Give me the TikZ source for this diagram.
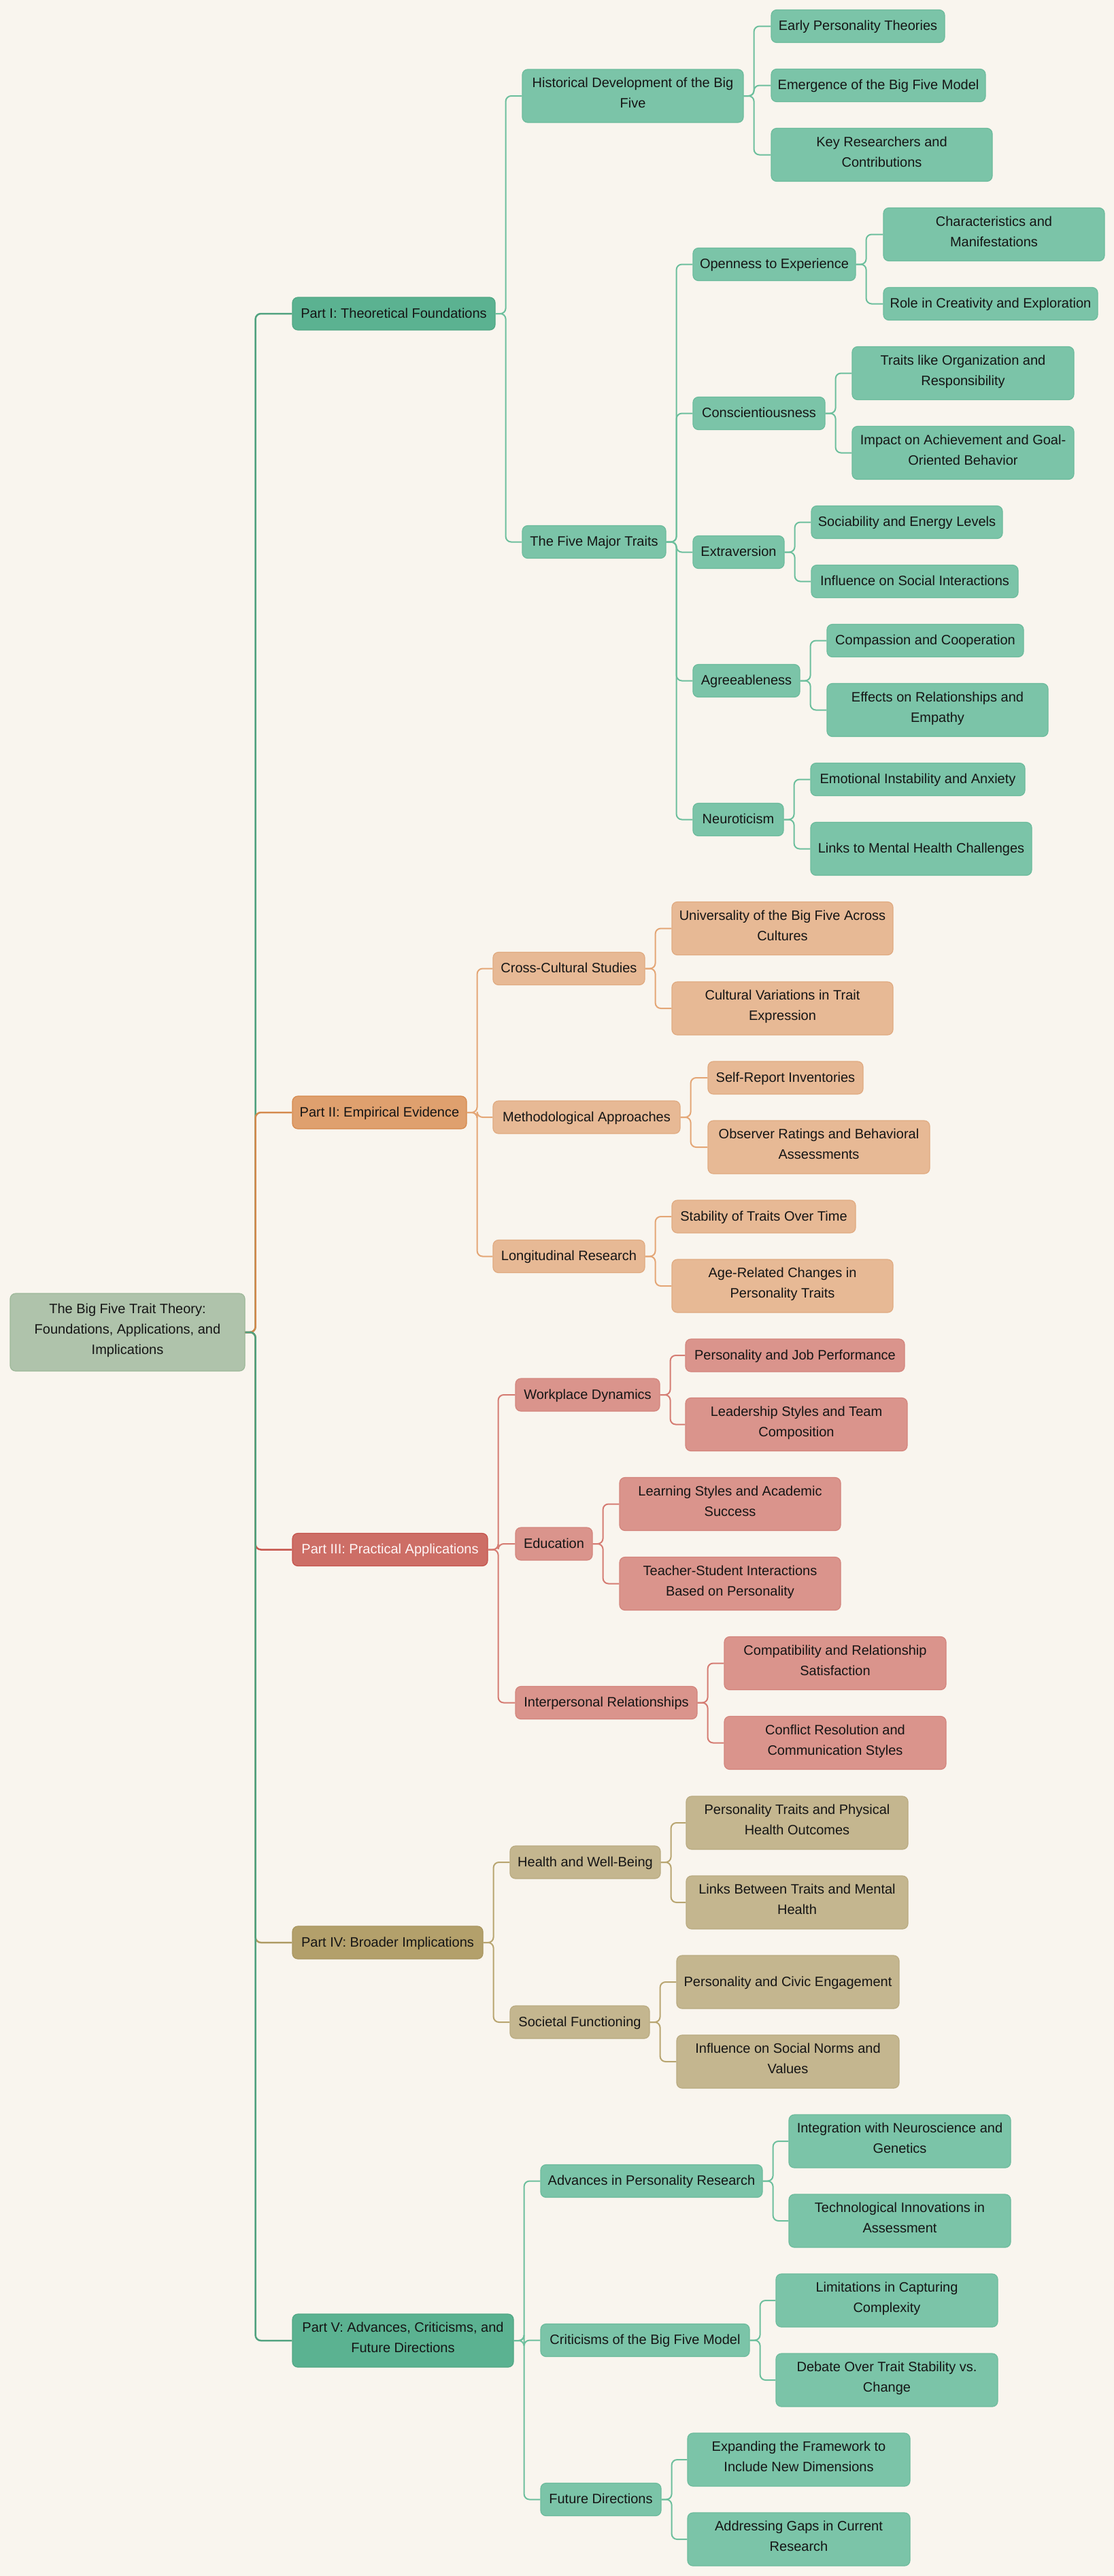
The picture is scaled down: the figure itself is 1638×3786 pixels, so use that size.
\documentclass[tikz,border=0pt]{standalone}
\usepackage{fontspec}
\setmainfont{Liberation Sans}
\definecolor{bg}{HTML}{F9F5EE}
\definecolor{rootf}{HTML}{AFC3AB}\definecolor{rootd}{HTML}{9CB898}
\definecolor{gA}{HTML}{5BB291}\definecolor{gAd}{HTML}{4FA683}
\definecolor{gB}{HTML}{7BC4A8}\definecolor{gBd}{HTML}{6CBB9C}
\definecolor{gE}{HTML}{6DBF9D}\definecolor{gR}{HTML}{50A27F}
\definecolor{oA}{HTML}{DFA06E}\definecolor{oAd}{HTML}{D5884C}
\definecolor{oB}{HTML}{E7B995}\definecolor{oBd}{HTML}{E0AA80}
\definecolor{oE}{HTML}{E4A676}\definecolor{oR}{HTML}{D4894C}
\definecolor{rA}{HTML}{CD6E66}\definecolor{rAd}{HTML}{C4524B}
\definecolor{rB}{HTML}{DA948C}\definecolor{rBd}{HTML}{D3847C}
\definecolor{rE}{HTML}{D57C73}\definecolor{rR}{HTML}{C6564C}
\definecolor{tA}{HTML}{B3A06B}\definecolor{tAd}{HTML}{A8955E}
\definecolor{tB}{HTML}{C4B68F}\definecolor{tBd}{HTML}{B9AA80}
\definecolor{tE}{HTML}{B8A570}\definecolor{tR}{HTML}{AD9A62}
\definecolor{txt}{HTML}{151515}
\newcommand\lnk[3]{\draw[edge,#1] (#2.east) -- ++(15,0) |- (#3.west);}
\begin{document}
\begin{tikzpicture}[x=1pt,y=-1pt,
  box/.style={rectangle, rounded corners=8pt, inner sep=0pt, align=center,
    font=\fontsize{20}{30}\selectfont, line width=1.2pt, text=txt,
    execute at begin node=\strut, execute at end node=\strut},
  sgl/.style={minimum height=48pt},
  dbl/.style={minimum height=78pt},
  mw/.style={minimum width=#1pt},
  gP/.style={box, fill=gA, draw=gAd},
  gC/.style={box, fill=gB, draw=gBd},
  oP/.style={box, fill=oA, draw=oAd},
  oC/.style={box, fill=oB, draw=oBd},
  rP/.style={box, fill=rA, draw=rAd, text=white!96!red},
  rC/.style={box, fill=rB, draw=rBd},
  tP/.style={box, fill=tA, draw=tAd},
  tC/.style={box, fill=tB, draw=tBd},
  edge/.style={line width=2pt, rounded corners=8pt},
  redge/.style={line width=2.5pt, rounded corners=8pt}]
\fill[bg] (0,0) rectangle (1638,3786);
\useasboundingbox (0,0) rectangle (1638,3786);

% root
\node[box, fill=rootf, draw=rootd, mw=345, minimum height=114pt] (R) at (187.5,1958)
  {The Big Five Trait Theory:\\Foundations, Applications, and\\Implications};

% Part I
\node[gP, mw=298, sgl] (P1) at (579,461) {Part I: Theoretical Foundations};
\node[gC, mw=325, dbl] (H) at (930.5,141) {Historical Development of the Big\\Five};
\node[gC, mw=211, sgl] (T5) at (873.5,796.5) {The Five Major Traits};
\node[gC, mw=255, sgl] (E1) at (1261.5,38.5) {Early Personality Theories};
\node[gC, mw=315, sgl] (E2) at (1291.5,125.5) {Emergence of the Big Five Model};
\node[gC, mw=325, dbl] (E3) at (1296.5,227.5) {Key Researchers and\\Contributions};
\node[gC, mw=239, sgl] (O) at (1138.5,388.5) {Openness to Experience};
\node[gC, mw=194, sgl] (C) at (1116,607.5) {Conscientiousness};
\node[gC, mw=134, sgl] (X) at (1086,811.5) {Extraversion};
\node[gC, mw=157, sgl] (A) at (1097.5,1000.5) {Agreeableness};
\node[gC, mw=133, sgl] (N) at (1085.5,1204.5) {Neuroticism};
\node[gC, mw=325, dbl] (O1) at (1461.5,344.5) {Characteristics and\\Manifestations};
\node[gC, mw=315, sgl] (O2) at (1456.5,446.5) {Role in Creativity and Exploration};
\node[gC, mw=326, dbl] (C1) at (1416,548.5) {Traits like Organization and\\Responsibility};
\node[gC, mw=326, dbl] (C2) at (1416,665.5) {Impact on Achievement and Goal-\\Oriented Behavior};
\node[gC, mw=281, sgl] (X1) at (1333.5,767.5) {Sociability and Energy Levels};
\node[gC, mw=304, sgl] (X2) at (1345,854.5) {Influence on Social Interactions};
\node[gC, mw=289, sgl] (A1) at (1360.5,941.5) {Compassion and Cooperation};
\node[gC, mw=325, dbl] (A2) at (1378.5,1043.5) {Effects on Relationships and\\Empathy};
\node[gC, mw=315, sgl] (N1) at (1349.5,1145.5) {Emotional Instability and Anxiety};
\node[gC, mw=325, dbl] (N2) at (1354.5,1247.5) {Links to Mental Health Challenges};

% Part II
\node[oP, mw=256, sgl] (P2) at (558,1635) {Part II: Empirical Evidence};
\node[oC, mw=223, sgl] (CC) at (836.5,1423.5) {Cross-Cultural Studies};
\node[oC, mw=275, sgl] (MA) at (862.5,1642) {Methodological Approaches};
\node[oC, mw=223, sgl] (LR) at (836.5,1846.5) {Longitudinal Research};
\node[oC, mw=325, dbl] (CC1) at (1150.5,1364.5) {Universality of the Big Five Across\\Cultures};
\node[oC, mw=325, dbl] (CC2) at (1150.5,1482) {Cultural Variations in Trait\\Expression};
\node[oC, mw=228, sgl] (MA1) at (1155,1584) {Self-Report Inventories};
\node[oC, mw=326, dbl] (MA2) at (1204,1686) {Observer Ratings and Behavioral\\Assessments};
\node[oC, mw=270, sgl] (LR1) at (1123,1788) {Stability of Traits Over Time};
\node[oC, mw=325, dbl] (LR2) at (1150.5,1890) {Age-Related Changes in\\Personality Traits};

% Part III
\node[rP, mw=287, sgl] (P3) at (573.5,2277.5) {Part III: Practical Applications};
\node[rC, mw=212, sgl] (WD) at (864,2050) {Workplace Dynamics};
\node[rC, mw=113, sgl] (ED) at (814.5,2269) {Education};
\node[rC, mw=267, sgl] (IR) at (891.5,2502.5) {Interpersonal Relationships};
\node[rC, mw=322, sgl] (WD1) at (1169,1992) {Personality and Job Performance};
\node[rC, mw=326, dbl] (WD2) at (1171,2093.5) {Leadership Styles and Team\\Composition};
\node[rC, mw=325, dbl] (ED1) at (1073.5,2210.5) {Learning Styles and Academic\\Success};
\node[rC, mw=325, dbl] (ED2) at (1073.5,2327.5) {Teacher-Student Interactions\\Based on Personality};
\node[rC, mw=326, dbl] (IR1) at (1228,2444.5) {Compatibility and Relationship\\Satisfaction};
\node[rC, mw=326, dbl] (IR2) at (1228,2561.5) {Conflict Resolution and\\Communication Styles};

% Part IV
\node[tP, mw=280, sgl] (P4) at (570,2855) {Part IV: Broader Implications};
\node[tC, mw=221, sgl] (HW) at (860.5,2737) {Health and Well-Being};
\node[tC, mw=205, sgl] (SF) at (852.5,2972) {Societal Functioning};
\node[tC, mw=326, dbl] (HW1) at (1172,2679) {Personality Traits and Physical\\Health Outcomes};
\node[tC, mw=326, dbl] (HW2) at (1172,2796) {Links Between Traits and Mental\\Health};
\node[tC, mw=327, dbl] (SF1) at (1158.5,2913) {Personality and Civic Engagement};
\node[tC, mw=327, dbl] (SF2) at (1158.5,3030) {Influence on Social Norms and\\Values};

% Part V
\node[gP, mw=325, dbl] (P5) at (592.5,3440) {Part V: Advances, Criticisms, and\\Future Directions};
\node[gC, mw=326, sgl] (AP) at (958,3205.5) {Advances in Personality Research};
\node[gC, mw=307, sgl] (CR) at (948.5,3439.5) {Criticisms of the Big Five Model};
\node[gC, mw=177, sgl] (FD) at (883.5,3673.5) {Future Directions};
\node[gC, mw=326, dbl] (AP1) at (1323,3147) {Integration with Neuroscience and\\Genetics};
\node[gC, mw=326, dbl] (AP2) at (1323,3264) {Technological Innovations in\\Assessment};
\node[gC, mw=326, dbl] (CR1) at (1304,3381) {Limitations in Capturing\\Complexity};
\node[gC, mw=326, dbl] (CR2) at (1304,3498) {Debate Over Trait Stability vs.\\Change};
\node[gC, mw=327, dbl] (FD1) at (1174.5,3615) {Expanding the Framework to\\Include New Dimensions};
\node[gC, mw=327, dbl] (FD2) at (1174.5,3732) {Addressing Gaps in Current\\Research};

% root connectors
\draw[redge,gR] (R.east) -- ++(15,0) |- (P1.west);
\draw[redge,oR] (R.east) -- ++(15,0) |- (P2.west);
\draw[redge,rR] (R.east) -- ++(15,0) |- (P3.west);
\draw[redge,tR] (R.east) -- ++(15,0) |- (P4.west);
\draw[redge,gR] (R.east) -- ++(15,0) |- (P5.west);

% Part I connectors
\lnk{gE}{P1}{H}\lnk{gE}{P1}{T5}
\lnk{gE}{H}{E1}\lnk{gE}{H}{E2}\lnk{gE}{H}{E3}
\lnk{gE}{T5}{O}\lnk{gE}{T5}{C}\lnk{gE}{T5}{X}\lnk{gE}{T5}{A}\lnk{gE}{T5}{N}
\lnk{gE}{O}{O1}\lnk{gE}{O}{O2}
\lnk{gE}{C}{C1}\lnk{gE}{C}{C2}
\lnk{gE}{X}{X1}\lnk{gE}{X}{X2}
\lnk{gE}{A}{A1}\lnk{gE}{A}{A2}
\lnk{gE}{N}{N1}\lnk{gE}{N}{N2}
% Part II connectors
\lnk{oE}{P2}{CC}\lnk{oE}{P2}{MA}\lnk{oE}{P2}{LR}
\lnk{oE}{CC}{CC1}\lnk{oE}{CC}{CC2}
\lnk{oE}{MA}{MA1}\lnk{oE}{MA}{MA2}
\lnk{oE}{LR}{LR1}\lnk{oE}{LR}{LR2}
% Part III connectors
\lnk{rE}{P3}{WD}\lnk{rE}{P3}{ED}\lnk{rE}{P3}{IR}
\lnk{rE}{WD}{WD1}\lnk{rE}{WD}{WD2}
\lnk{rE}{ED}{ED1}\lnk{rE}{ED}{ED2}
\lnk{rE}{IR}{IR1}\lnk{rE}{IR}{IR2}
% Part IV connectors
\lnk{tE}{P4}{HW}\lnk{tE}{P4}{SF}
\lnk{tE}{HW}{HW1}\lnk{tE}{HW}{HW2}
\lnk{tE}{SF}{SF1}\lnk{tE}{SF}{SF2}
% Part V connectors
\lnk{gE}{P5}{AP}\lnk{gE}{P5}{CR}\lnk{gE}{P5}{FD}
\lnk{gE}{AP}{AP1}\lnk{gE}{AP}{AP2}
\lnk{gE}{CR}{CR1}\lnk{gE}{CR}{CR2}
\lnk{gE}{FD}{FD1}\lnk{gE}{FD}{FD2}
\end{tikzpicture}
\end{document}
